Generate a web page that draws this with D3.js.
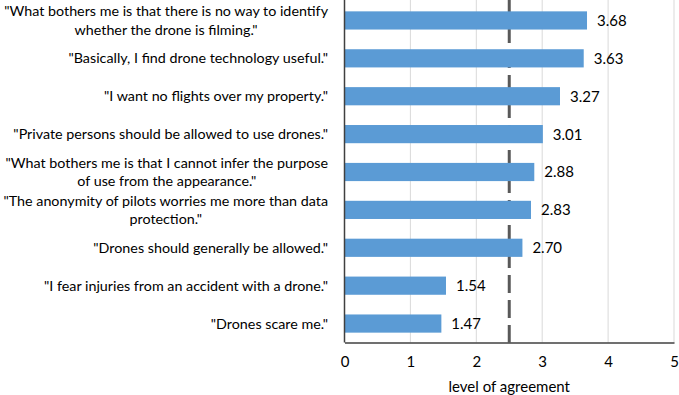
<!DOCTYPE html>
<html>
<head>
<meta charset="utf-8">
<script src="https://cdn.jsdelivr.net/npm/d3@7"></script>
<style>
html,body{margin:0;padding:0;background:#fff;}
svg{display:block;}
</style>
</head>
<body>
<svg id="chart" width="679" height="395"></svg>
<script>
const categories = [
  ["\"What bothers me is that there is no way to identify", "whether the drone is filming.\""],
  ["\"Basically, I find drone technology useful.\""],
  ["\"I want no flights over my property.\""],
  ["\"Private persons should be allowed to use drones.\""],
  ["\"What bothers me is that I cannot infer the purpose", "of use from the appearance.\""],
  ["\"The anonymity of pilots worries me more than data", "protection.\""],
  ["\"Drones should generally be allowed.\""],
  ["\"I fear injuries from an accident with a drone.\""],
  ["\"Drones scare me.\""]
];
const values = [3.68, 3.63, 3.27, 3.01, 2.88, 2.83, 2.70, 1.54, 1.47];
const xTicks = [0, 1, 2, 3, 4, 5];
const referenceValue = 2.5;
const xTitle = "level of agreement";

const font = "Lato, 'Open Sans', sans-serif";
const svg = d3.select("#chart");
const pLeft = 344.5, pRight = 674, pTop = 1.5, pBottom = 342.5;

const x = d3.scaleLinear().domain([0, 5]).range([pLeft, pRight]);
const y = d3.scaleBand().domain(d3.range(values.length)).range([pTop, pBottom])
  .paddingInner(0.52).paddingOuter(0.26);

// gridlines
svg.append("g").selectAll("line").data(xTicks.filter(d => d > 0)).join("line")
  .attr("x1", d => x(d)).attr("x2", d => x(d))
  .attr("y1", 0).attr("y2", pBottom)
  .attr("stroke", "#d9d9d9").attr("stroke-width", 1);

// reference dashed line
svg.append("line")
  .attr("x1", x(referenceValue)).attr("x2", x(referenceValue))
  .attr("y1", 0).attr("y2", pBottom)
  .attr("stroke", "#595959").attr("stroke-width", 3)
  .attr("stroke-dasharray", "18,7");

// bars
svg.append("g").selectAll("rect").data(values).join("rect")
  .attr("x", x(0))
  .attr("y", (d, i) => y(i))
  .attr("width", d => x(d) - x(0))
  .attr("height", y.bandwidth())
  .attr("fill", "#5b9bd5");

// value labels
svg.append("g").selectAll("text").data(values).join("text")
  .attr("x", d => x(d) + 10)
  .attr("y", (d, i) => y(i) + y.bandwidth() / 2)
  .attr("dy", "0.36em")
  .attr("font-family", font).attr("font-size", 15)
  .attr("fill", "#000")
  .text(d => d.toFixed(2));

// axes lines
svg.append("line").attr("x1", x(0)).attr("x2", x(0)).attr("y1", 0).attr("y2", pBottom)
  .attr("stroke", "#404040").attr("stroke-width", 1.5);
const xAxis = d3.axisBottom(x).tickValues(xTicks).tickSize(0).tickPadding(14).tickFormat(d3.format("d"));
const gx = svg.append("g").attr("transform", `translate(0,${pBottom})`).call(xAxis);
gx.select(".domain").attr("stroke", "#404040").attr("stroke-width", 1.5);
gx.selectAll("text").attr("font-family", font).attr("font-size", 15).attr("fill", "#000");

// axis title
svg.append("text").attr("x", (pLeft + pRight) / 2).attr("y", 386.5).attr("dy", "0.36em")
  .attr("text-anchor", "middle").attr("font-family", font).attr("font-size", 15)
  .attr("fill", "#000").text(xTitle);

// category labels
const labelRight = 328;
const lineH = 18.3;
const labelSize = 14.3;
const lg = svg.append("g");
categories.forEach((lines, i) => {
  const cy = y(i) + y.bandwidth() / 2;
  const g = lg.append("g");
  const texts = lines.map((ln, j) => g.append("text")
    .attr("y", cy + (j - (lines.length - 1) / 2) * lineH)
    .attr("dy", "0.36em")
    .attr("font-family", font).attr("font-size", labelSize).attr("fill", "#000")
    .attr("text-anchor", "middle")
    .text(ln));
  const w = d3.max(texts, t => t.node().getComputedTextLength());
  texts.forEach(t => t.attr("x", labelRight - w / 2));
});
</script>
</body>
</html>
